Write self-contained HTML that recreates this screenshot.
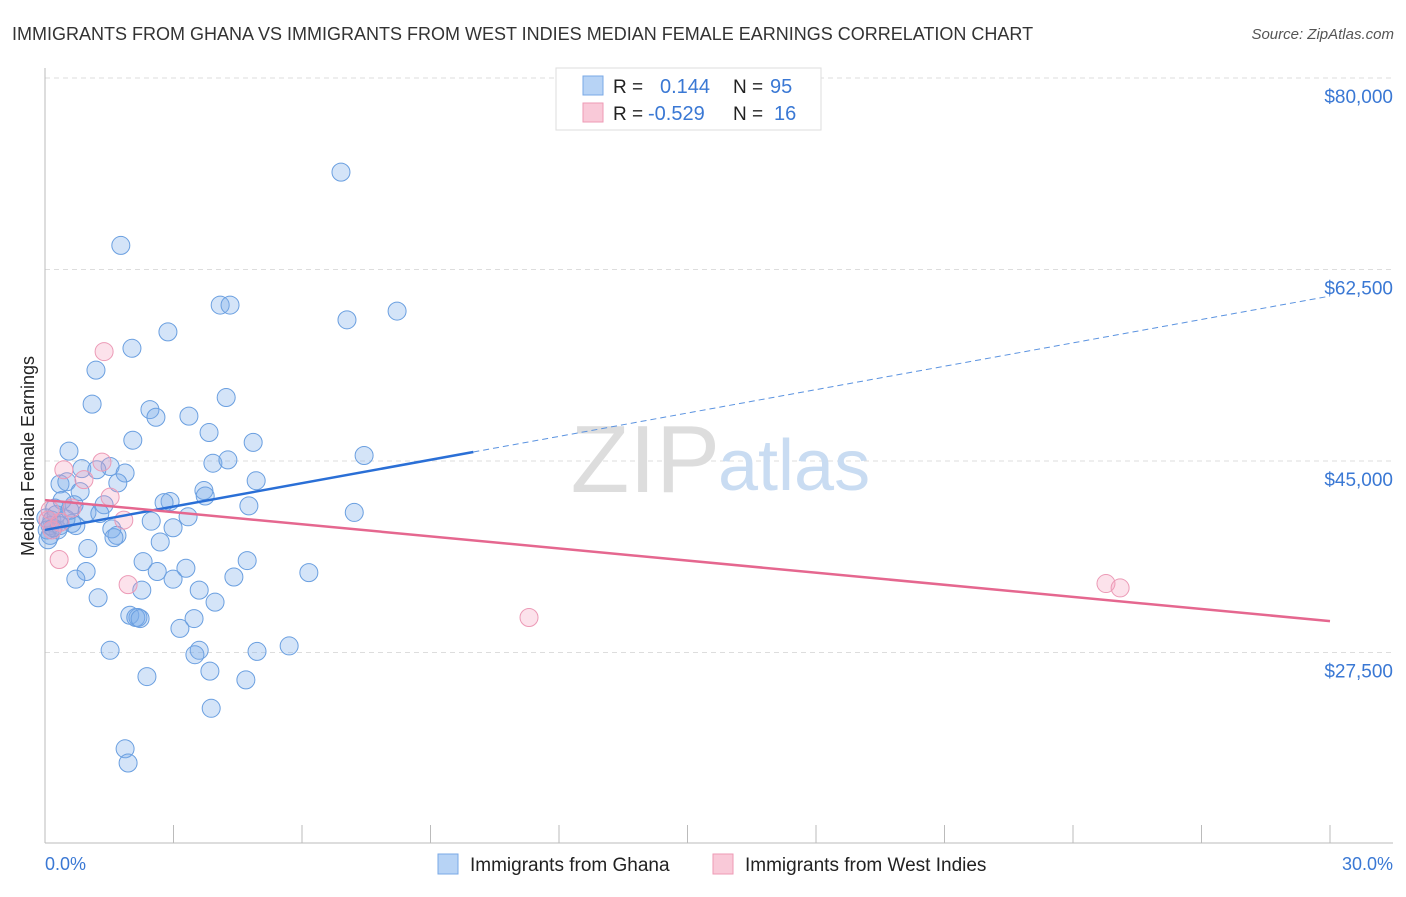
<!DOCTYPE html>
<html><head><meta charset="utf-8"><style>
body{margin:0;background:#fff;font-family:"Liberation Sans",sans-serif}
svg text{font-family:"Liberation Sans",sans-serif}
</style></head><body>
<svg width="1406" height="892">
<text x="12" y="40" font-size="18" fill="#333">IMMIGRANTS FROM GHANA VS IMMIGRANTS FROM WEST INDIES MEDIAN FEMALE EARNINGS CORRELATION CHART</text>
<text x="1394" y="39" font-size="15" fill="#555" font-style="italic" text-anchor="end">Source: ZipAtlas.com</text>
<g id="grid"></g>
<text x="720" y="492" font-size="96" fill="#ddd" text-anchor="end" font-family="Liberation Serif">ZIP</text>
<text x="718" y="490" font-size="72" fill="#c9dcf2">atlas</text>
<line x1="45" y1="68" x2="45" y2="843" stroke="#bbb"/>
<line x1="45" y1="843" x2="1393" y2="843" stroke="#bbb"/>
<g id="ticks"></g>
<text x="34" y="456" font-size="18" fill="#222" text-anchor="middle" transform="rotate(-90 34 456)">Median Female Earnings</text>
<text x="45" y="870" font-size="18" fill="#3a78d4">0.0%</text>
<text x="1393" y="870" font-size="18" fill="#3a78d4" text-anchor="end">30.0%</text>
<g id="points"></g>
<g id="lines"></g>
<g>
<rect x="556" y="68" width="265" height="62" fill="#fff" stroke="#ddd"/>
<rect x="583" y="76" width="20" height="19" fill="#b7d3f5" stroke="#7aa8e6"/>
<rect x="583" y="103" width="20" height="19" fill="#f9c9d8" stroke="#ee9ab5"/>
<text x="613" y="93" font-size="19" fill="#222">R =</text>
<text x="660" y="93" font-size="20" fill="#3a78d4">0.144</text>
<text x="733" y="93" font-size="19" fill="#222">N =</text>
<text x="770" y="93" font-size="20" fill="#3a78d4">95</text>
<text x="613" y="120" font-size="19" fill="#222">R =</text>
<text x="648" y="120" font-size="20" fill="#3a78d4">-0.529</text>
<text x="733" y="120" font-size="19" fill="#222">N =</text>
<text x="774" y="120" font-size="20" fill="#3a78d4">16</text>
</g>
<g>
<rect x="438" y="854" width="20" height="20" fill="#b7d3f5" stroke="#7aa8e6"/>
<text x="470" y="871" font-size="19" fill="#222">Immigrants from Ghana</text>
</g>
<g>
<rect x="713" y="854" width="20" height="20" fill="#f9c9d8" stroke="#ee9ab5"/>
<text x="745" y="871" font-size="19" fill="#222">Immigrants from West Indies</text>
</g>
</svg>
<script>
const yTicks=[80000,62500,45000,27500];
const yTickLabels=["$80,000","$62,500","$45,000","$27,500"];
const ghanaX=[6.91,1.77,4.09,4.32,7.05,8.22,2.87,2.03,1.19,1.10,2.45,2.59,4.23,3.36,3.83,2.05,4.86,0.56,3.92,4.27,7.45,1.52,0.86,1.21,1.87,4.93,0.35,0.51,0.82,1.70,3.71,3.74,2.92,2.78,4.76,1.38,0.68,0.40,0.23,0.98,1.28,2.48,3.34,7.22,0.02,0.16,0.63,0.72,1.56,1.68,2.99,0.30,0.12,1.61,2.69,1.00,2.29,4.72,3.29,2.62,0.96,6.16,4.41,2.99,0.72,3.60,2.26,1.24,3.97,1.98,2.17,2.12,2.22,3.48,3.15,5.70,1.52,3.60,3.50,4.95,3.85,2.38,4.69,3.88,1.87,1.94,0.07,0.12,0.26,0.49,0.58,0.05,0.19,0.35];
const ghanaY=[71400,64700,59250,59250,57900,58700,56800,55300,53300,50200,49700,49000,50800,49100,47600,46900,46700,45900,44800,45100,45500,44500,44300,44200,43900,43200,42900,43100,42200,43000,42300,41800,41300,41200,40900,41000,41000,41400,40700,40300,40200,39500,39900,40300,39800,39600,39300,39100,38800,38200,38900,38700,38200,38000,37600,37000,35800,35900,35200,34900,34900,34800,34400,34200,34200,33200,33200,32500,32100,30900,30700,30700,30600,30600,29700,28100,27700,27700,27300,27600,25800,25300,25000,22400,18700,17400,37800,39100,40100,39700,40500,38700,38900,39100];
const wiX=[1.38,0.44,1.33,1.52,0.63,1.84,0.35,1.94,0.33,0.07,0.16,24.77,25.10,11.30,0.91,0.12];
const wiY=[55000,44200,44900,41700,40700,39600,39400,33700,36000,39600,38700,33800,33400,30700,43300,40500];
const ghanaTrend=[38700,60070]; // values at 0% and 30%
const ghanaSolidEnd=10;
const wiTrend=[41430,30370];
const NS='http://www.w3.org/2000/svg';
function xs(p){return 45+p/30*1285;}
function ys(v){return 78+(80000-v)*191.5/17500;}
function mk(t,a){const e=document.createElementNS(NS,t);for(const k in a)e.setAttribute(k,a[k]);return e;}
const grid=document.getElementById('grid');
yTicks.forEach((v,i)=>{
 const l=mk('line',{x1:45,x2:1393,y1:ys(v),y2:ys(v),stroke:'#ddd','stroke-dasharray':'5,4'});
 
 
 grid.appendChild(l);
 const t=mk('text',{x:1393,y:ys(v)+25,'font-size':19,fill:'#3a78d4','text-anchor':'end'});
 t.textContent=yTickLabels[i];
 
 
 grid.appendChild(t);
});
const ticks=document.getElementById('ticks');
for(let i=0;i<=10;i++){
 const l=mk('line',{x1:xs(i*3),x2:xs(i*3),y1:825,y2:843,stroke:'#bbb'});
 
 
 ticks.appendChild(l);
}
const pts=document.getElementById('points');
ghanaX.forEach((x,i)=>{
 const c=mk('circle',{cx:xs(x),cy:ys(ghanaY[i]),r:9,fill:'rgba(125,172,235,0.33)',stroke:'#6a9fe0','stroke-width':1});
 
 
 pts.appendChild(c);
});
wiX.forEach((x,i)=>{
 const c=mk('circle',{cx:xs(x),cy:ys(wiY[i]),r:9,fill:'rgba(244,160,188,0.3)',stroke:'#ec9ab6','stroke-width':1});
 
 
 pts.appendChild(c);
});
const lines=document.getElementById('lines');
function gv(p){return ghanaTrend[0]+(ghanaTrend[1]-ghanaTrend[0])*p/30;}
const l1=mk('line',{x1:xs(0),y1:ys(gv(0)),x2:xs(ghanaSolidEnd),y2:ys(gv(ghanaSolidEnd)),stroke:'#2a6fd6','stroke-width':2.5});


lines.appendChild(l1);
const l2=mk('line',{x1:xs(ghanaSolidEnd),y1:ys(gv(ghanaSolidEnd)),x2:xs(30),y2:ys(gv(30)),stroke:'#5b93e0','stroke-width':1,'stroke-dasharray':'6,4'});


lines.appendChild(l2);
const l3=mk('line',{x1:xs(0),y1:ys(wiTrend[0]),x2:xs(30),y2:ys(wiTrend[1]),stroke:'#e5678f','stroke-width':2.5});


lines.appendChild(l3);
</script>
</body></html>
